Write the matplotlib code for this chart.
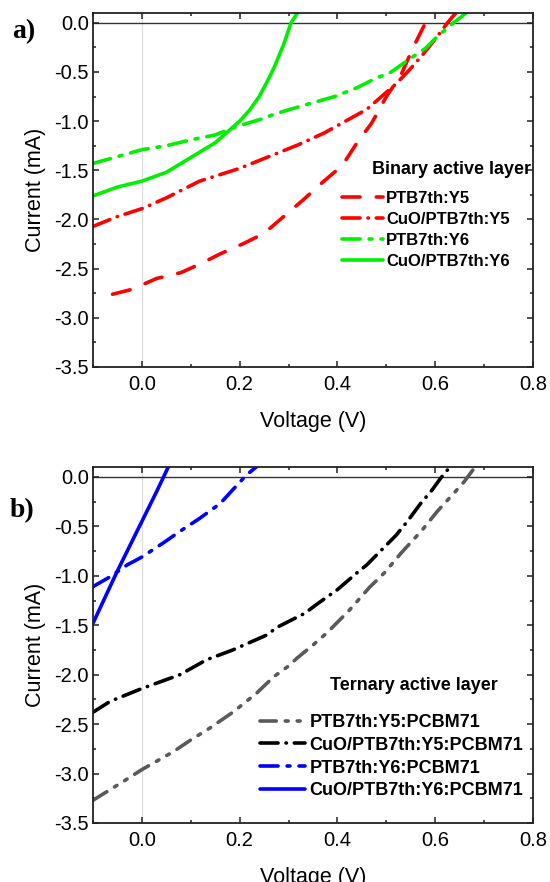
import matplotlib
matplotlib.use("Agg")
import matplotlib.pyplot as plt
from matplotlib.ticker import MultipleLocator

plt.rcParams['font.family'] = ['Liberation Sans', 'DejaVu Sans']
plt.rcParams['axes.unicode_minus'] = False

# ---------------- Panel a data ----------------
a_y5_v = [-0.06, -0.02, 0.03, 0.08, 0.12, 0.16, 0.21, 0.25, 0.29, 0.33, 0.37, 0.41, 0.44, 0.47, 0.50, 0.53, 0.555, 0.575, 0.59]
a_y5_i = [-2.76, -2.71, -2.60, -2.54, -2.45, -2.35, -2.24, -2.14, -1.97, -1.80, -1.62, -1.45, -1.22, -1.02, -0.75, -0.53, -0.25, -0.05, 0.10]

a_cuo_y5_v = [-0.1, -0.05, 0.0, 0.05, 0.118, 0.2, 0.27, 0.32, 0.373, 0.42, 0.46, 0.49, 0.52, 0.547, 0.575, 0.604, 0.625, 0.642]
a_cuo_y5_i = [-2.07, -1.97, -1.89, -1.78, -1.61, -1.48, -1.34, -1.24, -1.12, -0.99, -0.88, -0.75, -0.62, -0.48, -0.32, -0.14, 0.0, 0.10]

a_y6_v = [-0.1, -0.05, 0.0, 0.05, 0.1, 0.15, 0.19, 0.25, 0.27, 0.33, 0.394, 0.44, 0.476, 0.51, 0.547, 0.58, 0.604, 0.63, 0.663]
a_y6_i = [-1.43, -1.36, -1.29, -1.25, -1.19, -1.14, -1.06, -0.97, -0.93, -0.84, -0.75, -0.66, -0.57, -0.50, -0.37, -0.26, -0.14, -0.03, 0.10]

a_cuo_y6_v = [-0.1, -0.05, 0.0, 0.05, 0.1, 0.15, 0.2, 0.22, 0.24, 0.255, 0.27, 0.28, 0.29, 0.305, 0.318]
a_cuo_y6_i = [-1.76, -1.67, -1.61, -1.52, -1.37, -1.22, -1.00, -0.89, -0.75, -0.61, -0.46, -0.34, -0.22, 0.0, 0.10]

a_labels = ['PTB7th:Y5', 'CuO/PTB7th:Y5', 'PTB7th:Y6', 'CuO/PTB7th:Y6']

# ---------------- Panel b data ----------------
b_y5_v = [-0.1, -0.038, 0.0, 0.064, 0.1, 0.139, 0.186, 0.234, 0.27, 0.298, 0.318, 0.35, 0.38, 0.424, 0.465, 0.496, 0.532, 0.573, 0.604, 0.639, 0.659, 0.68]
b_y5_i = [-3.27, -3.08, -2.96, -2.78, -2.66, -2.54, -2.38, -2.19, -2.02, -1.92, -1.83, -1.70, -1.57, -1.35, -1.12, -0.97, -0.76, -0.54, -0.35, -0.16, -0.05, 0.09]

b_cuo_y5_v = [-0.1, -0.065, 0.0, 0.078, 0.132, 0.186, 0.255, 0.277, 0.333, 0.36, 0.40, 0.44, 0.46, 0.496, 0.52, 0.543, 0.57, 0.594, 0.61, 0.625]
b_cuo_y5_i = [-2.38, -2.27, -2.14, -2.00, -1.85, -1.75, -1.60, -1.52, -1.38, -1.28, -1.14, -0.97, -0.89, -0.71, -0.59, -0.45, -0.27, -0.13, -0.02, 0.07]

b_y6_v = [-0.1, -0.065, -0.03, 0.0, 0.043, 0.078, 0.118, 0.16, 0.186, 0.214, 0.234]
b_y6_i = [-1.11, -1.01, -0.89, -0.81, -0.67, -0.55, -0.42, -0.27, -0.13, 0.02, 0.10]

b_cuo_y6_v = [-0.1, -0.05, 0.0, 0.03, 0.054]
b_cuo_y6_i = [-1.48, -0.95, -0.45, -0.15, 0.10]

b_labels = ['PTB7th:Y5:PCBM71', 'CuO/PTB7th:Y5:PCBM71', 'PTB7th:Y6:PCBM71', 'CuO/PTB7th:Y6:PCBM71']

xticks = [0.0, 0.2, 0.4, 0.6, 0.8]
yticks = [0.0, -0.5, -1.0, -1.5, -2.0, -2.5, -3.0, -3.5]

RED = '#FF0000'
GREEN = '#00EE00'
BLUE = '#0000FF'
GRAY = '#5A5A5A'
LW = 2.6

fig = plt.figure(figsize=(5.5, 8.82), dpi=100)
ax_a = fig.add_axes([93/550, 1-367/882, 440/550, 354/882])
ax_b = fig.add_axes([93/550, 1-823/882, 440/550, 356/882])


def style_axes(ax):
    ax.set_xlim(-0.1, 0.8)
    ax.set_ylim(-3.5, 0.1)
    ax.set_xticks(xticks)
    ax.set_yticks(yticks)
    ax.xaxis.set_minor_locator(MultipleLocator(0.1))
    ax.yaxis.set_minor_locator(MultipleLocator(0.25))
    ax.tick_params(which='both', direction='in', top=True, right=True,
                   labeltop=False, labelright=False, width=1.1, color='#222222')
    ax.tick_params(which='major', length=4.5, labelsize=14.5)
    ax.tick_params(axis='x', which='major', pad=6)
    ax.tick_params(axis='y', which='major', pad=3)
    ax.tick_params(which='minor', length=2.5)
    for s in ax.spines.values():
        s.set_linewidth(1.3)
        s.set_color('#222222')
    ax.axhline(0, color='#333333', lw=1.0, zorder=1)
    ax.axvline(0, color='#DDDDDD', lw=0.9, zorder=0)
    ax.set_xlabel('Voltage (V)', fontsize=15.5, labelpad=12)
    ax.set_ylabel('Current (mA)', fontsize=15.5, labelpad=6)


style_axes(ax_a)
style_axes(ax_b)

kw = dict(lw=LW, dash_capstyle='round', solid_capstyle='round')

# Panel a
la1, = ax_a.plot(a_y5_v, a_y5_i, color=RED, dashes=(5, 4.5), **kw)
la2, = ax_a.plot(a_cuo_y5_v, a_cuo_y5_i, color=RED, dashes=(5, 2.2, 0.1, 2.2), **kw)
la3, = ax_a.plot(a_y6_v, a_y6_i, color=GREEN, dashes=(5, 2.5, 0.8, 2.5), **kw)
la4, = ax_a.plot(a_cuo_y6_v, a_cuo_y6_i, color=GREEN, **kw)

ax_a.legend([la1, la2, la3, la4], a_labels, loc='upper left',
            bbox_to_anchor=((342-93)/440, (367-191)/354), frameon=False,
            prop={'weight': 'bold', 'size': 12}, handlelength=2.45,
            handletextpad=0.2, labelspacing=0.36, borderpad=0, borderaxespad=0)
ax_a.text((372-93)/440, (367-170)/354, 'Binary active layer', transform=ax_a.transAxes,
          fontsize=13, fontweight='bold', va='center', ha='left')

# Panel b
lb1, = ax_b.plot(b_y5_v, b_y5_i, color=GRAY, dashes=(4.5, 2.5, 0.8, 2.5, 0.8, 2.5), **kw)
lb2, = ax_b.plot(b_cuo_y5_v, b_cuo_y5_i, color='black', dashes=(5, 2.2, 0.1, 2.2), **kw)
lb3, = ax_b.plot(b_y6_v, b_y6_i, color=BLUE, dashes=(5, 2.5, 0.8, 2.5), **kw)
lb4, = ax_b.plot(b_cuo_y6_v, b_cuo_y6_i, color=BLUE, **kw)

ax_b.legend([lb1, lb2, lb3, lb4], b_labels, loc='upper left',
            bbox_to_anchor=((260-93)/440, (823-714)/356), frameon=False,
            prop={'weight': 'bold', 'size': 13}, handlelength=2.5,
            handletextpad=0.25, labelspacing=0.32, borderpad=0, borderaxespad=0)
ax_b.text((330-93)/440, (823-685)/356, 'Ternary active layer', transform=ax_b.transAxes,
          fontsize=13, fontweight='bold', va='center', ha='left')

fig.text(12/550, 1-38/882, 'a)', fontsize=20, fontweight='bold',
         family=['Liberation Serif', 'DejaVu Serif'], ha='left', va='baseline')
fig.text(10/550, 1-517/882, 'b)', fontsize=20, fontweight='bold',
         family=['Liberation Serif', 'DejaVu Serif'], ha='left', va='baseline')

fig.savefig('out.png', dpi=100)
